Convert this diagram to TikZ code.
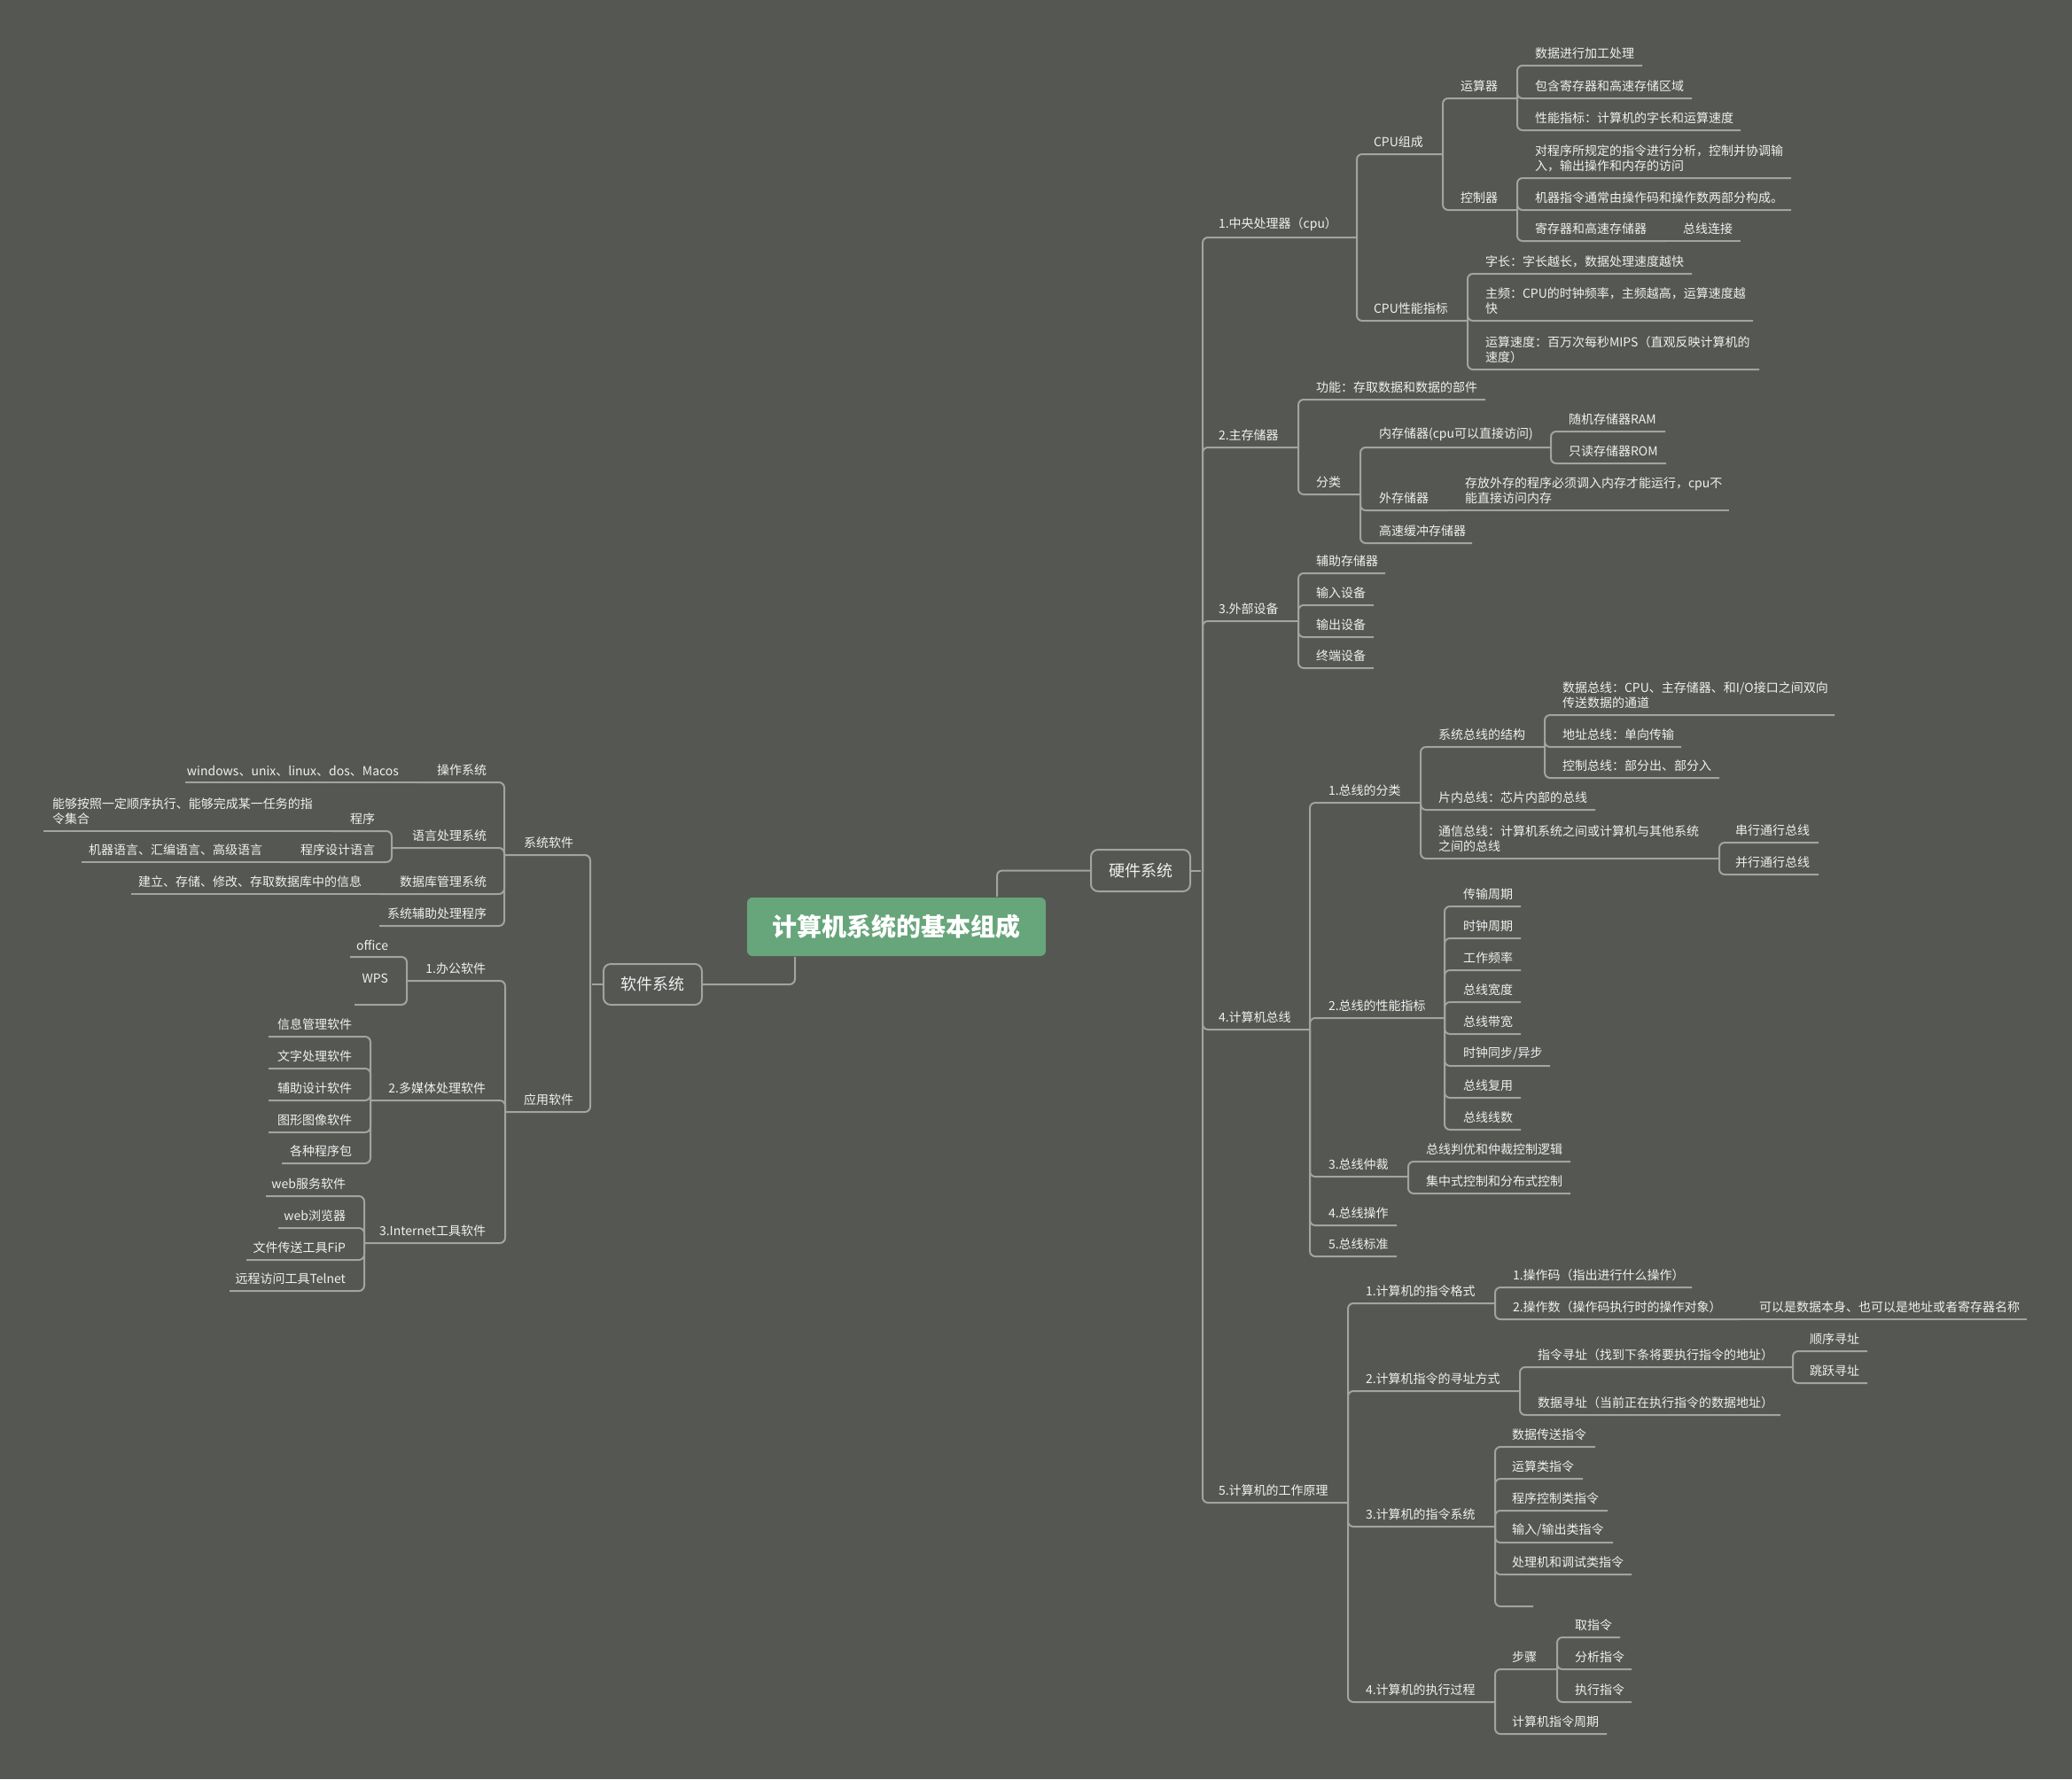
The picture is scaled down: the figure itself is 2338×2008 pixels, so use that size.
\documentclass[tikz,border=0pt]{standalone}
\usepackage{fontspec}
\setmainfont{Noto Sans CJK SC}
\definecolor{bgcol}{RGB}{85,87,83}
\definecolor{linecol}{RGB}{163,163,161}
\definecolor{txtcol}{RGB}{240,240,240}
\definecolor{rootcol}{RGB}{103,165,122}
\newcommand{\tpfont}{\fontsize{7}{8.7}\selectfont}
% right side: [opts]{parent}{name}{text x}{line end x}{line y}{text}
\newcommand{\rtopic}[7][]{%
    \pgfmathsetmacro{\tpw}{(#5-#4)*0.5}%
    \node[rtopic, text width=\tpw pt, #1] (#3) at (#5, #6) {#7};%
    \draw[branch] (#2.south east) |- (#3.south east);%
}
\newcommand{\rtail}[7][]{%
    \pgfmathsetmacro{\tpw}{(#5-#4)*0.5}%
    \node[rtopic, text width=\tpw pt, #1] (#3) at (#5, #6) {#7};%
    \draw[branch] (#2.south east) -- (#3.south east);%
}
% left side: [opts]{parent}{name}{line start x}{text right x}{line y}{text}
\newcommand{\ltopic}[7][]{%
    \pgfmathsetmacro{\tpw}{(#5-#4)*0.5}%
    \node[ltopic, text width=\tpw pt, #1] (#3) at (#4, #6) {#7};%
    \draw[branch] (#2.south west) |- (#3.south west);%
}
\newcommand{\ltail}[7][]{%
    \pgfmathsetmacro{\tpw}{(#5-#4)*0.5}%
    \node[ltopic, text width=\tpw pt, #1] (#3) at (#4, #6) {#7};%
    \draw[branch] (#2.south west) -- (#3.south west);%
}
\begin{document}
\begin{tikzpicture}[x=0.5pt, y=-0.5pt, line width=1pt,
    branch/.style={draw=linecol, line width=1pt, rounded corners=3pt},
    rtopic/.style={anchor=south east, align=left, inner xsep=0pt, inner ysep=3pt, font=\tpfont, text=txtcol},
    ltopic/.style={anchor=south west, align=right, inner xsep=0pt, inner ysep=3pt, font=\tpfont, text=txtcol},
    mainbox/.style={draw=linecol, line width=1pt, rounded corners=4pt, fill=bgcol, text=txtcol,
        font=\fontsize{9}{11}\selectfont, minimum height=23.5pt, inner sep=0pt},
    rootbox/.style={fill=rootcol, rounded corners=3pt, text=white, font=\fontsize{14}{16}\selectfont\bfseries,
        minimum width=168.5pt, minimum height=33pt, inner sep=0pt}]

        % Background / page size
        \fill[bgcol] (0,0) rectangle (2338,2008);

        % --- Root and the two main boxes ---
        \node[rootbox] (root) at (1011.5, 1046) {计算机系统的基本组成};
        \node[mainbox, minimum width=56pt] (hw) at (1287, 982.5) {硬件系统};
        \node[mainbox, minimum width=55.5pt, minimum height=23pt] (sw) at (736.5, 1111) {软件系统};
        \node[inner sep=0pt, minimum size=0pt] (hwj) at (1356, 982.5) {};
        \node[inner sep=0pt, minimum size=0pt] (swj) at (667, 1111) {};

        \draw[branch] ([xshift=-28pt]root.north east) |- (hw.west);
        \draw[branch] ([xshift=27.5pt]root.south west) |- (sw.east);
        \draw[branch] (hw.east) -- (hwj);
        \draw[branch] (sw.west) -- (swj);

        % --- 1.中央处理器 ---
        \rtopic{hwj}{cpu}{1376}{1531}{268}{1.中央处理器（cpu）}
        \rtopic{cpu}{cpuzc}{1551}{1628}{174}{CPU组成}
        \rtopic{cpuzc}{ysq}{1649}{1712}{111}{运算器}
        \rtopic{ysq}{ysqa}{1733}{1853}{74}{数据进行加工处理}
        \rtopic{ysq}{ysqb}{1733}{1909}{111}{包含寄存器和高速存储区域}
        \rtopic{ysq}{ysqc}{1733}{1964}{147}{性能指标：计算机的字长和运算速度}
        \rtopic{cpuzc}{kzq}{1649}{1712}{237}{控制器}
        \rtopic{kzq}{kzqa}{1733}{2021}{201}{对程序所规定的指令进行分析，控制并协调输\\入，输出操作和内存的访问}
        \rtopic{kzq}{kzqb}{1733}{2021}{237}{机器指令通常由操作码和操作数两部分构成。}
        \rtopic{kzq}{kzqc}{1733}{1880}{272}{寄存器和高速存储器}
        \rtail{kzqc}{kzqd}{1900}{1964}{272}{总线连接}
        \rtopic{cpu}{cpuzb}{1551}{1656}{362}{CPU性能指标}
        \rtopic{cpuzb}{zb1}{1677}{1909}{309}{字长：字长越长，数据处理速度越快}
        \rtopic{cpuzb}{zb2}{1677}{1978}{362}{主频：CPU的时钟频率，主频越高，运算速度越\\快}
        \rtopic{cpuzb}{zb3}{1677}{1985}{417}{运算速度：百万次每秒MIPS（直观反映计算机的\\速度）}

        % --- 2.主存储器 ---
        \rtopic{hwj}{mem}{1376}{1465}{505}{2.主存储器}
        \rtopic{mem}{memgn}{1486}{1676}{451}{功能：存取数据和数据的部件}
        \rtopic{mem}{memfl}{1486}{1535}{558}{分类}
        \rtopic{memfl}{nc}{1557}{1750}{505}{内存储器(cpu可以直接访问)}
        \rtopic{nc}{ram}{1771}{1879}{487}{随机存储器RAM}
        \rtopic{nc}{rom}{1771}{1880}{523}{只读存储器ROM}
        \rtopic{memfl}{wc}{1557}{1635}{576}{外存储器}
        \rtail{wc}{wcd}{1654}{1951}{576}{存放外存的程序必须调入内存才能运行，cpu不\\能直接访问内存}
        \rtopic{memfl}{hc}{1557}{1661}{613}{高速缓冲存储器}

        % --- 3.外部设备 ---
        \rtopic{hwj}{ext}{1376}{1465}{701}{3.外部设备}
        \rtopic{ext}{fz}{1486}{1563}{647}{辅助存储器}
        \rtopic{ext}{sr}{1486}{1550}{683}{输入设备}
        \rtopic{ext}{sc}{1486}{1550}{719}{输出设备}
        \rtopic{ext}{zd}{1486}{1550}{754}{终端设备}

        % --- 4.计算机总线 ---
        \rtopic{hwj}{bus}{1376}{1478}{1162}{4.计算机总线}
        \rtopic{bus}{bfl}{1500}{1603}{906}{1.总线的分类}
        \rtopic{bfl}{xtjg}{1624}{1743}{843}{系统总线的结构}
        \rtopic{xtjg}{sj}{1764}{2070}{807}{数据总线：CPU、主存储器、和I/O接口之间双向\\传送数据的通道}
        \rtopic{xtjg}{dz}{1764}{1897}{843}{地址总线：单向传输}
        \rtopic{xtjg}{kz}{1764}{1940}{878}{控制总线：部分出、部分入}
        \rtopic{bfl}{pn}{1624}{1800}{914}{片内总线：芯片内部的总线}
        \rtopic{bfl}{tx}{1624}{1940}{969}{通信总线：计算机系统之间或计算机与其他系统\\之间的总线}
        \rtopic{tx}{cx}{1959}{2052}{951}{串行通行总线}
        \rtopic{tx}{bx}{1959}{2052}{987}{并行通行总线}
        \rtopic{bus}{bxn}{1500}{1630}{1149}{2.总线的性能指标}
        \rtopic{bxn}{xn1}{1652}{1716}{1023}{传输周期}
        \rtopic{bxn}{xn2}{1652}{1716}{1059}{时钟周期}
        \rtopic{bxn}{xn3}{1652}{1716}{1095}{工作频率}
        \rtopic{bxn}{xn4}{1652}{1716}{1131}{总线宽度}
        \rtopic{bxn}{xn5}{1652}{1716}{1167}{总线带宽}
        \rtopic{bxn}{xn6}{1652}{1749}{1203}{时钟同步/异步}
        \rtopic{bxn}{xn7}{1652}{1716}{1239}{总线复用}
        \rtopic{bxn}{xn8}{1652}{1716}{1275}{总线线数}
        \rtopic{bus}{bzc}{1500}{1589}{1328}{3.总线仲裁}
        \rtopic{bzc}{zc1}{1610}{1772}{1311}{总线判优和仲裁控制逻辑}
        \rtopic{bzc}{zc2}{1610}{1772}{1347}{集中式控制和分布式控制}
        \rtopic{bus}{bcz}{1500}{1576}{1383}{4.总线操作}
        \rtopic{bus}{bbz}{1500}{1576}{1418}{5.总线标准}

        % --- 5.计算机的工作原理 ---
        \rtopic{hwj}{work}{1376}{1521}{1696}{5.计算机的工作原理}
        \rtopic{work}{gs}{1542}{1687}{1471}{1.计算机的指令格式}
        \rtopic{gs}{czm}{1708}{1909}{1453}{1.操作码（指出进行什么操作）}
        \rtopic{gs}{czs}{1708}{1965}{1489}{2.操作数（操作码执行时的操作对象）}
        \rtail{czs}{czsd}{1986}{2287}{1489}{可以是数据本身、也可以是地址或者寄存器名称}
        \rtopic{work}{xz}{1542}{1715}{1570}{2.计算机指令的寻址方式}
        \rtopic{xz}{zlxz}{1736}{2023}{1543}{指令寻址（找到下条将要执行指令的地址）}
        \rtopic{zlxz}{sxxz}{2043}{2107}{1525}{顺序寻址}
        \rtopic{zlxz}{tyxz}{2043}{2107}{1561}{跳跃寻址}
        \rtopic{xz}{sjxz}{1736}{2009}{1597}{数据寻址（当前正在执行指令的数据地址）}
        \rtopic{work}{zlxt}{1542}{1687}{1723}{3.计算机的指令系统}
        \rtopic{zlxt}{xt1}{1707}{1800}{1633}{数据传送指令}
        \rtopic{zlxt}{xt2}{1707}{1786}{1669}{运算类指令}
        \rtopic{zlxt}{xt3}{1707}{1814}{1705}{程序控制类指令}
        \rtopic{zlxt}{xt4}{1707}{1820}{1741}{输入/输出类指令}
        \rtopic{zlxt}{xt5}{1707}{1841}{1777}{处理机和调试类指令}
        \rtopic{zlxt}{xt6}{1707}{1730}{1813}{}
        \rtopic{work}{zxgc}{1542}{1687}{1921}{4.计算机的执行过程}
        \rtopic{zxgc}{bz}{1707}{1757}{1884}{步骤}
        \rtopic{bz}{qzl}{1778}{1828}{1848}{取指令}
        \rtopic{bz}{fxzl}{1778}{1841}{1884}{分析指令}
        \rtopic{bz}{zxzl}{1778}{1841}{1921}{执行指令}
        \rtopic{zxgc}{zlzq}{1707}{1813}{1957}{计算机指令周期}

        % --- 系统软件 ---
        \ltopic{swj}{syssw}{569}{646}{965}{系统软件}
        \ltopic{syssw}{os}{470}{548}{883}{操作系统}
        \ltail{os}{osd}{209}{449}{883}{windows、unix、linux、dos、Macos}
        \ltopic{syssw}{yy}{442}{548}{957}{语言处理系统}
        \ltopic{yy}{prog}{375}{422}{938}{程序}
        \ltail[align=left, inner xsep=4.5pt]{prog}{progd}{49}{355}{938}{能够按照一定顺序执行、能够完成某一任务的指\\令集合}
        \ltopic{yy}{pl}{317}{422}{973}{程序设计语言}
        \ltail{pl}{pld}{92}{295}{973}{机器语言、汇编语言、高级语言}
        \ltopic{syssw}{db}{428}{548}{1009}{数据库管理系统}
        \ltail{db}{dbd}{148}{407}{1009}{建立、存储、修改、存取数据库中的信息}
        \ltopic{syssw}{sysfz}{428}{548}{1045}{系统辅助处理程序}

        % --- 应用软件 ---
        \ltopic{swj}{appsw}{570}{646}{1255}{应用软件}
        \ltopic{appsw}{office}{459}{547}{1107}{1.办公软件}
        \ltopic{office}{off}{395}{437}{1080}{office}
        \ltopic{office}{wps}{400}{437}{1134}{WPS\\~}
        \ltopic{appsw}{mm}{418}{547}{1242}{2.多媒体处理软件}
        \ltopic{mm}{mm1}{303}{396}{1170}{信息管理软件}
        \ltopic{mm}{mm2}{303}{396}{1206}{文字处理软件}
        \ltopic{mm}{mm3}{303}{396}{1242}{辅助设计软件}
        \ltopic{mm}{mm4}{303}{396}{1278}{图形图像软件}
        \ltopic{mm}{mm5}{318}{396}{1313}{各种程序包}
        \ltopic{appsw}{inet}{411}{547}{1403}{3.Internet工具软件}
        \ltopic{inet}{web1}{300}{389}{1350}{web服务软件}
        \ltopic{inet}{web2}{314}{389}{1386}{web浏览器}
        \ltopic{inet}{web3}{278}{389}{1422}{文件传送工具FiP}
        \ltopic{inet}{web4}{259}{389}{1457}{远程访问工具Telnet}

\end{tikzpicture}
\end{document}
